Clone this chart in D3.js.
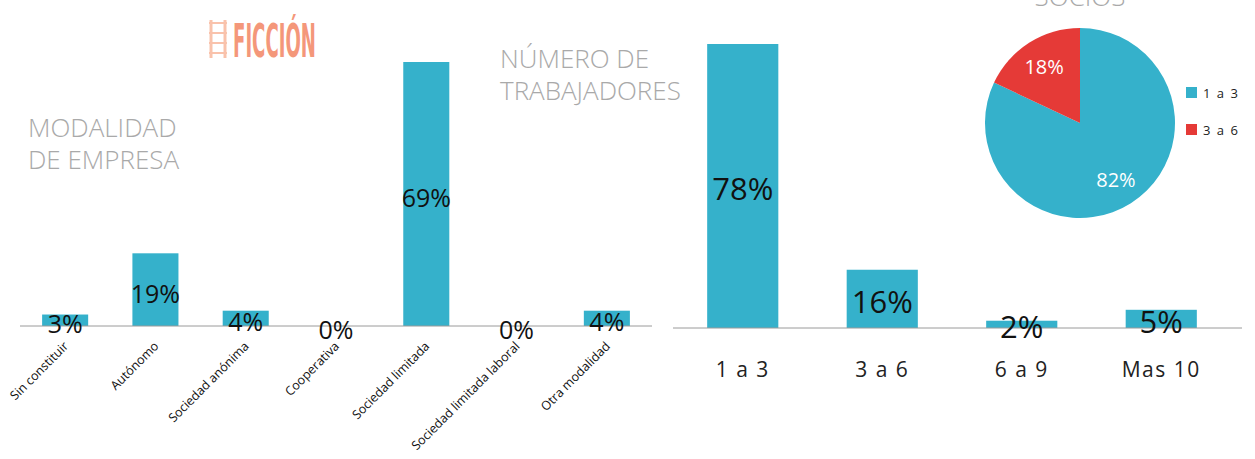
<!DOCTYPE html>
<html>
<head>
<meta charset="utf-8">
<script src="https://cdn.jsdelivr.net/npm/d3@7"></script>
<style>
  body { margin: 0; background: #fff; }
  svg { display: block; }
</style>
</head>
<body>
<svg id="container" width="1255" height="459"></svg>
<script>
// modalidad de empresa
const modalidades = ['Sin constituir', 'Autónomo', 'Sociedad anónima', 'Cooperativa', 'Sociedad limitada', 'Sociedad limitada laboral', 'Otra modalidad'];
const modalidadValues = [3, 19, 4, 0, 69, 0, 4];

// número de trabajadores
const trabajadores = ['1 a 3', '3 a 6', '6 a 9', 'Mas 10'];
const trabajadoresValues = [78, 16, 2, 5];

// socios
const socios = ['1 a 3', '3 a 6'];
const sociosValues = [82, 18];

const BLUE = '#35b1cb';
const RED = '#e53a37';
const GREY_TITLE = '#a9a9a9';
const FONT = '"Open Sans", "Noto Sans", sans-serif';

const svg = d3.select('#container');

// --- left bar chart
const x1 = d3.scaleBand().domain(modalidades).range([20, 652]).paddingInner(0.49).paddingOuter(0.245);
const y1 = d3.scaleLinear().domain([0, 69]).range([326, 62]);

const left = svg.append('g').attr('class', 'modalidad');

left.selectAll('rect')
  .data(modalidadValues)
  .enter()
  .append('rect')
  .attr('fill', BLUE)
  .attr('x', (d, i) => x1(modalidades[i]))
  .attr('width', x1.bandwidth())
  .attr('y', d => y1(d))
  .attr('height', d => y1(0) - y1(d));

left.append('line')
  .attr('stroke', '#9a9a9a')
  .attr('stroke-width', 1)
  .attr('x1', 20).attr('x2', 652)
  .attr('y1', y1(0)).attr('y2', y1(0));

left.selectAll('text.val')
  .data(modalidadValues)
  .enter()
  .append('text')
  .attr('class', 'val')
  .attr('x', (d, i) => x1(modalidades[i]) + x1.bandwidth() / 2)
  .attr('y', d => (y1(d) + y1(0)) / 2 + 3)
  .attr('text-anchor', 'middle')
  .attr('dominant-baseline', 'central')
  .attr('font-family', FONT)
  .attr('font-size', 25)
  .attr('fill', '#111')
  .text(d => d + '%');

left.selectAll('text.cat')
  .data(modalidades)
  .enter()
  .append('text')
  .attr('class', 'cat')
  .attr('transform', d => `translate(${x1(d) + x1.bandwidth() / 2 + 4},${y1(0) + 21}) rotate(-45)`)
  .attr('text-anchor', 'end')
  .attr('font-family', FONT)
  .attr('font-size', 12.5)
  .attr('fill', '#111')
  .text(d => d);

// --- right bar chart
const x2 = d3.scaleBand().domain(trabajadores).range([673, 1231]).paddingInner(0.49).paddingOuter(0.245);
const y2 = d3.scaleLinear().domain([0, 78]).range([328, 44]);

const right = svg.append('g').attr('class', 'trabajadores');

right.selectAll('rect')
  .data(trabajadoresValues)
  .enter()
  .append('rect')
  .attr('fill', BLUE)
  .attr('x', (d, i) => x2(trabajadores[i]))
  .attr('width', x2.bandwidth())
  .attr('y', d => y2(d))
  .attr('height', d => y2(0) - y2(d));

right.append('line')
  .attr('stroke', '#9a9a9a')
  .attr('stroke-width', 1)
  .attr('x1', 673).attr('x2', 1242)
  .attr('y1', y2(0)).attr('y2', y2(0));

right.selectAll('text.val')
  .data(trabajadoresValues)
  .enter()
  .append('text')
  .attr('class', 'val')
  .attr('x', (d, i) => x2(trabajadores[i]) + x2.bandwidth() / 2)
  .attr('y', d => (y2(d) + y2(0)) / 2 + 2)
  .attr('text-anchor', 'middle')
  .attr('dominant-baseline', 'central')
  .attr('font-family', FONT)
  .attr('font-size', 31)
  .attr('fill', '#111')
  .text(d => d + '%');

right.selectAll('text.cat')
  .data(trabajadores)
  .enter()
  .append('text')
  .attr('class', 'cat')
  .attr('x', d => x2(d) + x2.bandwidth() / 2)
  .attr('y', 377)
  .attr('text-anchor', 'middle')
  .attr('font-family', FONT)
  .attr('font-size', 21)
  .attr('letter-spacing', 1.5)
  .attr('fill', '#222')
  .text(d => d);

// --- pie
const pieG = svg.append('g').attr('transform', 'translate(1080,123)');
const pie = d3.pie().sort(null)(sociosValues);
const arc = d3.arc().innerRadius(0).outerRadius(95);
const labelArc = d3.arc().innerRadius(67).outerRadius(67);
const colors = d3.scaleOrdinal().domain(socios).range([BLUE, RED]);

pieG.selectAll('path')
  .data(pie)
  .enter()
  .append('path')
  .attr('d', arc)
  .attr('fill', (d, i) => colors(socios[i]));

pieG.selectAll('text')
  .data(pie)
  .enter()
  .append('text')
  .attr('transform', d => `translate(${labelArc.centroid(d)})`)
  .attr('text-anchor', 'middle')
  .attr('dominant-baseline', 'central')
  .attr('font-family', FONT)
  .attr('font-size', 20)
  .attr('fill', '#fff')
  .text(d => d.data + '%');

const legend = svg.append('g').selectAll('g')
  .data(socios)
  .enter()
  .append('g')
  .attr('transform', (d, i) => `translate(1186,${87 + i * 37})`);
legend.append('rect')
  .attr('width', 11).attr('height', 11)
  .attr('fill', d => colors(d));
legend.append('text')
  .attr('x', 17).attr('y', 6)
  .attr('dominant-baseline', 'central')
  .attr('font-family', FONT)
  .attr('font-size', 13)
  .attr('letter-spacing', 1.5)
  .attr('fill', '#222')
  .text(d => d);

// --- titles
const titles = [
  { lines: ['MODALIDAD', 'DE EMPRESA'], x: 28, y: 137, anchor: 'start' },
  { lines: ['NÚMERO DE', 'TRABAJADORES'], x: 500, y: 68, anchor: 'start' },
  { lines: ['SOCIOS'], x: 1080, y: 6, anchor: 'middle' }
];
titles.forEach(t => {
  svg.append('text')
    .attr('x', t.x)
    .attr('y', t.y)
    .attr('text-anchor', t.anchor)
    .attr('font-family', FONT)
    .attr('font-weight', 300)
    .attr('font-size', 26)
    .attr('fill', GREY_TITLE)
    .selectAll('tspan')
    .data(t.lines)
    .enter()
    .append('tspan')
    .attr('x', t.x)
    .attr('dy', (d, i) => i ? 32 : 0)
    .text(d => d);
});

// --- logo
const logo = svg.append('g').attr('class', 'logo');
logo.append('text')
  .attr('x', 233)
  .attr('y', 57)
  .attr('font-family', '"Liberation Sans Narrow", "DejaVu Sans Condensed", sans-serif')
  .attr('font-weight', 'bold')
  .attr('font-size', 46)
  .attr('textLength', 83)
  .attr('lengthAdjust', 'spacingAndGlyphs')
  .attr('fill', '#f4977a')
  .text('FICCIÓN');
[211, 225].forEach(x => {
  logo.append('line')
    .attr('x1', x).attr('x2', x)
    .attr('y1', 20).attr('y2', 58)
    .attr('stroke', '#f9c2ab').attr('stroke-width', 3);
});
d3.range(23, 58, 10).forEach(y => {
  logo.append('line')
    .attr('x1', 209).attr('x2', 227)
    .attr('y1', y).attr('y2', y)
    .attr('stroke', '#f9c2ab').attr('stroke-width', 2);
});
</script>
</body>
</html>
